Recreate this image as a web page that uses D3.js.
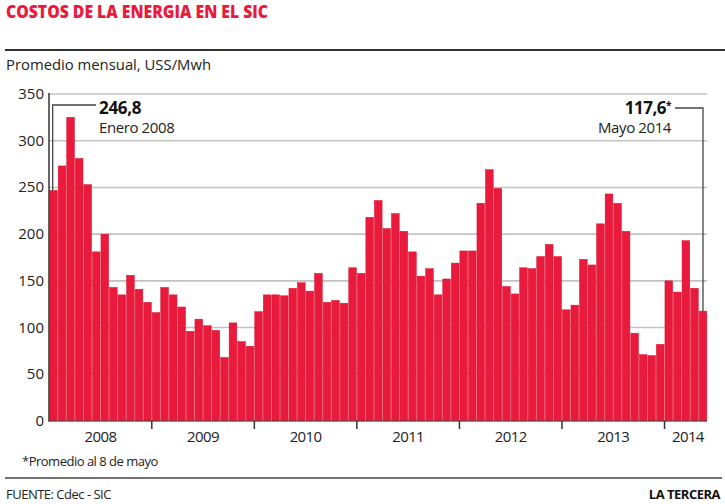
<!DOCTYPE html>
<html><head><meta charset="utf-8">
<script src="https://cdn.jsdelivr.net/npm/d3@7"></script>
<style>
body{margin:0;background:#fff;}
svg{display:block;}
text{font-family:"Open Sans","Noto Sans",sans-serif;}
</style></head>
<body><svg id="c" width="725" height="504"></svg>
<script>
const years = ["2008","2009","2010","2011","2012","2013","2014"];
const monthsPerYear = [12,12,12,12,12,12,5];
const values = [
 246.8,273,325,281,253,181,200,143,135,156,141,127,
 116,143,135,122,96,109,102,97,68,105,85,80,
 117,135,135,134,142,148,139,158,127,129,126,164,
 158,218,236,206,222,203,181,155,163,135,152,169,
 182,182,233,269,249,144,136,164,163,176,189,176,
 119,124,173,167,211,243,233,203,94,71,70,82,
 150,138,193,142,117.6
];
const yTicks = [0,50,100,150,200,250,300,350];
const title = "COSTOS DE LA ENERGIA EN EL SIC";
const subtitle = "Promedio mensual, USS/Mwh";
const noteFirst = ["246,8","Enero 2008"];
const noteLast = ["117,6","*","Mayo 2014"];
const footnote = "*Promedio al 8 de mayo";
const source = "FUENTE: Cdec - SIC";
const brand = "LA TERCERA";

const svg = d3.select("#c");
const red = "#ea1a3d";
const x = d3.scaleBand().domain(d3.range(values.length)).range([49.5,707]).paddingInner(0.1).paddingOuter(0.02);
const y = d3.scaleLinear().domain([0,350]).range([421,94]);

// header
svg.append("text").attr("x",6).attr("y",18).attr("fill",red).attr("font-weight",800)
  .attr("font-size",17).attr("textLength",262).attr("lengthAdjust","spacingAndGlyphs")
  .style("font-family","'Open Sans',sans-serif").text(title);
svg.append("line").attr("x1",5).attr("x2",725).attr("y1",50).attr("y2",50).attr("stroke","#333").attr("stroke-width",1.8);
svg.append("text").attr("x",6).attr("y",70).attr("font-size",15).attr("fill","#222")
  .attr("textLength",205).attr("lengthAdjust","spacingAndGlyphs").text(subtitle);

// grid
svg.append("g").selectAll("line").data(yTicks.filter(d=>d>0)).join("line")
  .attr("x1",49).attr("x2",707).attr("y1",d=>y(d)).attr("y2",d=>y(d))
  .attr("stroke","#c2c2c2").attr("stroke-width",1.6);

// y labels
svg.append("g").selectAll("text").data(yTicks).join("text")
  .attr("x",44).attr("y",d=>y(d)+5).attr("text-anchor","end").attr("font-size",15).attr("fill","#222")
  .text(d=>d);

// bars
svg.append("g").selectAll("rect").data(values).join("rect")
  .attr("x",(d,i)=>x(i)).attr("width",x.bandwidth())
  .attr("y",d=>y(d)).attr("height",d=>y(0)-y(d))
  .attr("fill",red).attr("stroke","#d8102f").attr("stroke-width",0.5);

// axes lines
svg.append("line").attr("x1",49).attr("x2",49).attr("y1",93).attr("y2",421.5).attr("stroke","#333").attr("stroke-width",1.5);
svg.append("line").attr("x1",48.5).attr("x2",707).attr("y1",421).attr("y2",421).attr("stroke","#444").attr("stroke-width",1);

// year ticks and labels
let start = 0;
const step = x.step();
years.forEach((yr,k)=>{
  const n = monthsPerYear[k];
  const x0 = x(start) - step*x.paddingInner()/2;
  const x1 = x(start+n-1) + x.bandwidth() + step*x.paddingInner()/2;
  if(k>0){
    svg.append("line").attr("x1",x0).attr("x2",x0).attr("y1",421).attr("y2",429).attr("stroke","#333").attr("stroke-width",1.5);
  }
  svg.append("text").attr("x",(x0+x1)/2 + (k===6?2:0)).attr("y",442).attr("text-anchor","middle")
    .attr("font-size",15).attr("fill","#222").attr("letter-spacing",-0.6).text(yr);
  start += n;
});

// annotation first
const fx = x(0)+3;
svg.append("path").attr("d",`M${fx},${y(values[0])}V105H96`).attr("fill","none").attr("stroke","#444").attr("stroke-width",1.3);
svg.append("text").attr("x",99).attr("y",114).attr("font-size",17).attr("font-weight",700).attr("fill","#111").attr("letter-spacing",-0.3).text(noteFirst[0]);
svg.append("text").attr("x",99).attr("y",133).attr("font-size",15).attr("fill","#222").attr("letter-spacing",-0.4).text(noteFirst[1]);

// annotation last
const last = values.length-1;
const lx = x(last)+x.bandwidth()/2;
svg.append("path").attr("d",`M675,108H${lx}V${y(values[last])}`).attr("fill","none").attr("stroke","#444").attr("stroke-width",1.3);
const lt = svg.append("text").attr("x",671).attr("y",114).attr("text-anchor","end").attr("font-size",17).attr("font-weight",700).attr("fill","#111").attr("letter-spacing",-0.5);
lt.append("tspan").text(noteLast[0]);
lt.append("tspan").attr("font-size",10).attr("dy",-5).text(noteLast[1]);
svg.append("text").attr("x",671).attr("y",133).attr("text-anchor","end").attr("font-size",15).attr("fill","#222").attr("letter-spacing",-0.4).text(noteLast[2]);

// footer
svg.append("text").attr("x",22).attr("y",466).attr("font-size",13).attr("fill","#222").attr("letter-spacing",-0.5).text(footnote);
svg.append("line").attr("x1",5).attr("x2",722).attr("y1",478).attr("y2",478).attr("stroke","#444").attr("stroke-width",1.3);
svg.append("text").attr("x",6).attr("y",499).attr("font-size",13).attr("fill","#222").attr("letter-spacing",-0.5).text(source);
svg.append("text").attr("x",720).attr("y",499).attr("text-anchor","end").attr("font-size",13).attr("font-weight",700).attr("fill","#111").attr("letter-spacing",-0.5).text(brand);
</script></body></html>
